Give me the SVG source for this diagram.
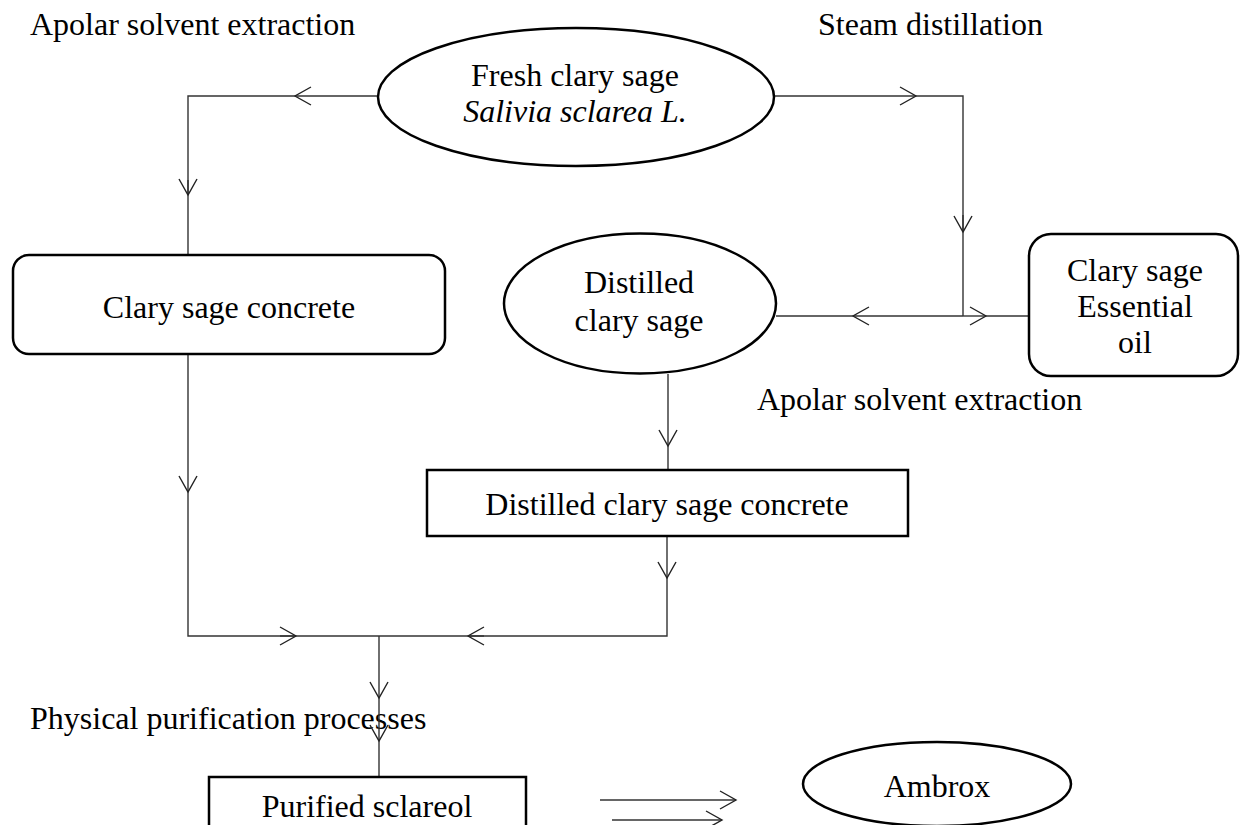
<svg xmlns="http://www.w3.org/2000/svg" width="1240" height="825" viewBox="0 0 1240 825">
<style>
text{font-family:"Liberation Serif","Times New Roman",serif;font-size:32px;fill:#000}
.c{text-anchor:middle}
.n{fill:#fff;stroke:#000;stroke-width:2.5}
.l{fill:none;stroke:#333;stroke-width:1.4}
.a{fill:none;stroke:#333;stroke-width:1.4;marker-end:url(#ch)}
</style>
<defs>
<marker id="ch" markerUnits="userSpaceOnUse" orient="auto" refX="0" refY="0" markerWidth="20" markerHeight="20" viewBox="-17 -10 20 20" overflow="visible">
<path d="M-16,-9 L0,0 L-16,9" fill="none" stroke="#222" stroke-width="1.4"/>
</marker>
</defs>
<rect width="1240" height="825" fill="#fff"/>
<g id="labels">
<text x="30" y="35">Apolar solvent extraction</text>
<text x="818" y="35">Steam distillation</text>
<text x="757" y="410">Apolar solvent extraction</text>
<text x="30" y="729">Physical purification processes</text>
</g>
<g id="connectors">
<path class="a" d="M378,96 L295,96"/>
<path class="l" d="M295,96 L188,96 L188,195"/>
<path class="a" d="M188,180 L188,195"/>
<path class="l" d="M188,195 L188,255"/>
<path class="a" d="M774,96 L916,96"/>
<path class="l" d="M916,96 L963,96 L963,232"/>
<path class="a" d="M963,215 L963,232"/>
<path class="l" d="M963,232 L963,316"/>
<path class="a" d="M963,316 L853,316"/>
<path class="l" d="M853,316 L776,316"/>
<path class="a" d="M963,316 L986,316"/>
<path class="l" d="M986,316 L1029,316"/>
<path class="a" d="M188,354 L188,492"/>
<path class="l" d="M188,492 L188,636 L296,636"/>
<path class="a" d="M280,636 L296,636"/>
<path class="l" d="M296,636 L379,636"/>
<path class="a" d="M668,374 L668,446"/>
<path class="l" d="M668,446 L668,470"/>
<path class="a" d="M667,536 L667,578"/>
<path class="l" d="M667,578 L667,636 L468,636"/>
<path class="a" d="M484,636 L468,636"/>
<path class="l" d="M468,636 L379,636"/>
<path class="a" d="M379,636 L379,698"/>
<path class="a" d="M379,698 L379,741"/>
<path class="l" d="M379,741 L379,777"/>
<path class="a" d="M600,800 L736,800"/>
<path class="a" d="M612,820 L722,820"/>
</g>
<g id="fresh">
<ellipse class="n" cx="576" cy="97" rx="198" ry="69"/>
<text class="c" x="575" y="86">Fresh clary sage</text>
<text class="c" x="575" y="122" font-style="italic">Salivia sclarea L.</text>
</g>
<g id="concrete">
<rect class="n" x="13" y="255" width="432" height="99" rx="16"/>
<text class="c" x="229" y="318">Clary sage concrete</text>
</g>
<g id="distilled">
<ellipse class="n" cx="640" cy="303.5" rx="136" ry="70"/>
<text class="c" x="639" y="293">Distilled</text>
<text class="c" x="639" y="331">clary sage</text>
</g>
<g id="essential">
<rect class="n" x="1029" y="234" width="209" height="142" rx="22"/>
<text class="c" x="1135" y="281">Clary sage</text>
<text class="c" x="1135" y="317">Essential</text>
<text class="c" x="1135" y="353">oil</text>
</g>
<g id="distconcrete">
<rect class="n" x="427" y="470" width="481" height="66"/>
<text class="c" x="667" y="515">Distilled clary sage concrete</text>
</g>
<g id="purified">
<rect class="n" x="209" y="777" width="317" height="60"/>
<text class="c" x="367" y="817">Purified sclareol</text>
</g>
<g id="ambrox">
<ellipse class="n" cx="937" cy="784" rx="134" ry="42"/>
<text class="c" x="937" y="797">Ambrox</text>
</g>
</svg>
